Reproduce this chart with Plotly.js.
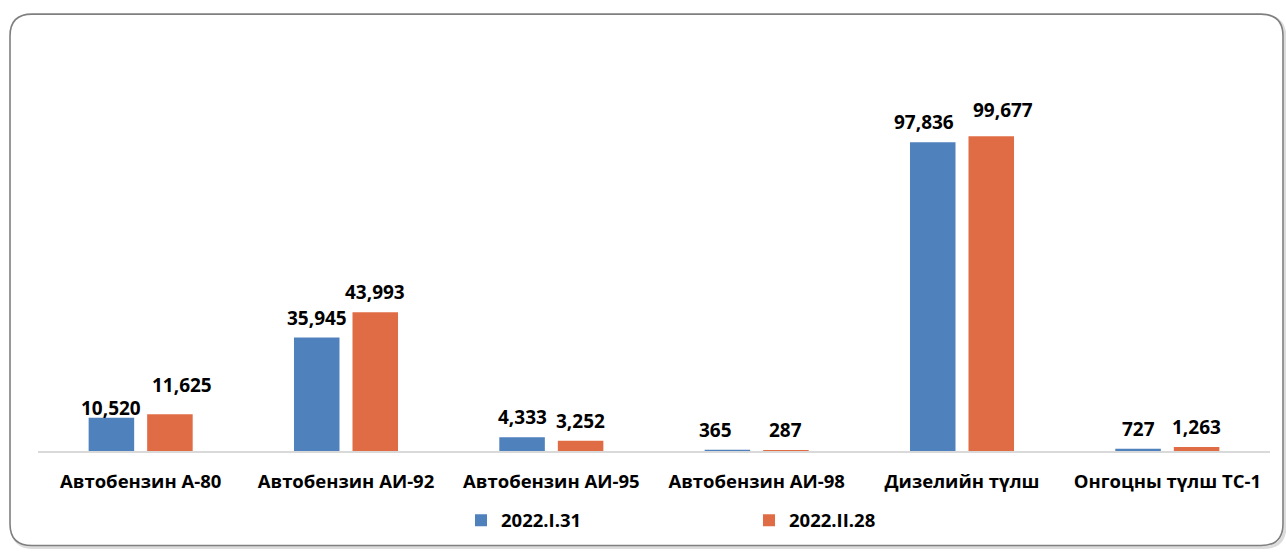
<!DOCTYPE html>
<html>
<head>
<meta charset="utf-8">
<script src="https://cdn.plot.ly/plotly-3.0.1.min.js"></script>
<style>
html,body{margin:0;padding:0;background:#fff;}
#chart{width:1286px;height:552px;}
</style>
</head>
<body>
<div id="chart"></div>
<script>
const categories = ["Автобензин А-80", "Автобензин АИ-92", "Автобензин АИ-95", "Автобензин АИ-98", "Дизелийн түлш", "Онгоцны түлш ТС-1"];
const seriesNames = ["2022.I.31", "2022.II.28"];
const valuesJan = [10520, 35945, 4333, 365, 97836, 727];
const valuesFeb = [11625, 43993, 3252, 287, 99677, 1263];

// label nudges (style only, in pixels) to mirror the reference's hand-placed labels
const labelNudgeX = [[0, 0, 0, -12, -9, 0], [12, 0, 0, 0, 12, 0]];
const labelNudgeY = [[-10, 0, 0, 0, 0, 0], [9, 0, 0, 0, 6, 0]];

const W = 1286, H = 552;
const M = {l: 38, r: 16, t: 40, b: 99};
const pw = W - M.l - M.r, ph = H - M.t - M.b;
const px = x => (x - M.l) / pw;
const py = y => (H - M.b - y) / ph;

function roundRect(x0, y0, x1, y1, r) {
  const X = px, Y = py;
  return `M${X(x0 + r)},${Y(y0)} L${X(x1 - r)},${Y(y0)} Q${X(x1)},${Y(y0)} ${X(x1)},${Y(y0 + r)} ` +
         `L${X(x1)},${Y(y1 - r)} Q${X(x1)},${Y(y1)} ${X(x1 - r)},${Y(y1)} ` +
         `L${X(x0 + r)},${Y(y1)} Q${X(x0)},${Y(y1)} ${X(x0)},${Y(y1 - r)} ` +
         `L${X(x0)},${Y(y0 + r)} Q${X(x0)},${Y(y0)} ${X(x0 + r)},${Y(y0)} Z`;
}

const fontFam = "'Open Sans', 'Liberation Sans', sans-serif";
const fmt = v => v.toLocaleString('en-US');

const colors = ["#4f81bd", "#e06c45"];
const traces = [valuesJan, valuesFeb].map((vals, i) => ({
  type: 'bar',
  name: seriesNames[i],
  x: categories,
  y: vals,
  marker: {color: colors[i]},
  hoverinfo: 'x+y'
}));

const annotations = [];
[valuesJan, valuesFeb].forEach((vals, i) => {
  vals.forEach((v, j) => {
    annotations.push({
      x: categories[j], y: v, xref: 'x', yref: 'y',
      text: '<b>' + fmt(v) + '</b>',
      showarrow: false, yanchor: 'bottom',
      xshift: (i === 0 ? -29.3 : 29.3) + labelNudgeX[i][j],
      yshift: 5 + labelNudgeY[i][j],
      font: {family: fontFam, size: 19, color: '#000'}
    });
  });
});

const layout = {
  width: W, height: H,
  margin: M,
  paper_bgcolor: '#fff', plot_bgcolor: 'rgba(0,0,0,0)',
  barmode: 'group', bargap: 0.43, bargroupgap: 0.222,
  showlegend: true,
  legend: {
    orientation: 'h', x: px(461), xanchor: 'left', y: py(523), yanchor: 'middle',
    entrywidth: 243, entrywidthmode: 'pixels',
    font: {family: fontFam, size: 18.5, color: '#000', weight: 'bold'},
    bgcolor: 'rgba(0,0,0,0)'
  },
  xaxis: {
    type: 'category',
    showgrid: false, zeroline: false,
    showline: true, linecolor: '#d9d9d9', linewidth: 1.5,
    ticks: '', ticklabelstandoff: 13,
    tickfont: {family: fontFam, size: 18.5, color: '#000', weight: 'bold'}
  },
  yaxis: {
    range: [0, 130200], visible: false, showgrid: false, zeroline: false
  },
  annotations: annotations,
  shapes: [
    {type: 'path', xref: 'paper', yref: 'paper', path: roundRect(12, 16, 1285, 550, 22),
     line: {color: '#dcdcdc', width: 3}, layer: 'below'},
    {type: 'path', xref: 'paper', yref: 'paper', path: roundRect(10, 14, 1283, 548, 22),
     line: {color: '#7f7f7f', width: 1.6}, fillcolor: '#fff', layer: 'below'}
  ]
};

Plotly.newPlot('chart', traces, layout, {displayModeBar: false, staticPlot: true});
</script>
</body>
</html>
